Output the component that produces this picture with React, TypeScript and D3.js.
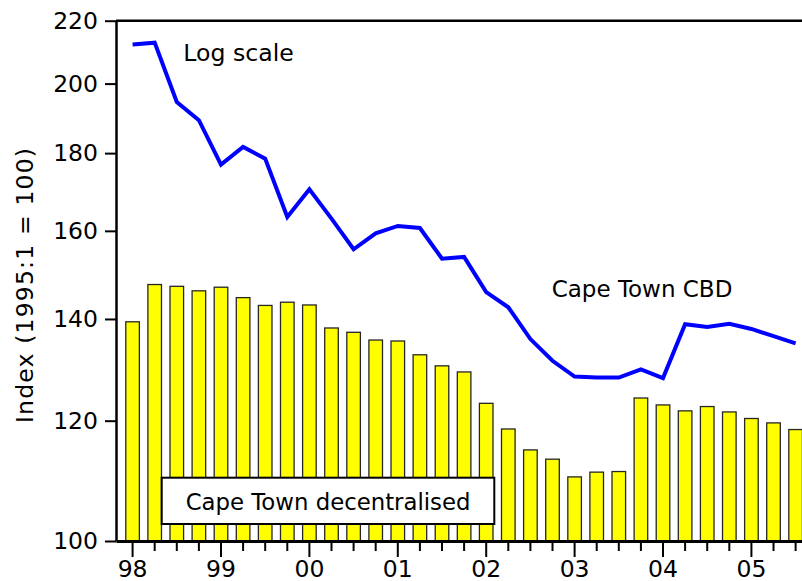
import React, { useRef, useEffect } from "react";
import * as d3 from "d3";

// Quarterly observations, 1998Q1 to 2005Q3
const quarters = [
  "98Q1", "98Q2", "98Q3", "98Q4",
  "99Q1", "99Q2", "99Q3", "99Q4",
  "00Q1", "00Q2", "00Q3", "00Q4",
  "01Q1", "01Q2", "01Q3", "01Q4",
  "02Q1", "02Q2", "02Q3", "02Q4",
  "03Q1", "03Q2", "03Q3", "03Q4",
  "04Q1", "04Q2", "04Q3", "04Q4",
  "05Q1", "05Q2", "05Q3",
];

// Cape Town CBD (line)
const cbd = [
  212.2, 212.8, 194.5, 189.2, 176.9, 181.7, 178.5, 163.4,
  170.4, 163.0, 155.6, 159.4, 161.2, 160.7, 153.4, 153.8,
  145.8, 142.5, 135.8, 131.4, 128.3, 128.1, 128.1, 129.7,
  128.0, 138.9, 138.3, 139.0, 137.9, 136.4, 134.9,
];

// Cape Town decentralised (bars)
const decentralised = [
  139.4, 147.5, 147.1, 146.1, 146.9, 144.6, 142.9, 143.6,
  143.0, 138.1, 137.2, 135.6, 135.4, 132.6, 130.4, 129.2,
  123.2, 118.5, 114.8, 113.2, 110.2, 111.0, 111.1, 124.2,
  122.9, 121.8, 122.6, 121.6, 120.4, 119.6, 118.4,
];

const yTicks = [100, 120, 140, 160, 180, 200, 220];

const FONT = "DejaVu Sans, Verdana, sans-serif";

const App = () => {
  const svgRef = useRef<SVGSVGElement>(null);

  useEffect(() => {
    const svg = d3.select(svgRef.current);
    svg.selectAll("*").remove();

    const left = 116;
    const width = 802;

    const x = d3
      .scaleBand<string>()
      .domain(quarters)
      .range([left, 812.2])
      .paddingInner(0.385)
      .paddingOuter(0.443);
    const y = d3.scaleLog().domain([100, 220]).range([541, 20.7]);
    const cx = (q: string) => (x(q) as number) + x.bandwidth() / 2;

    // Bars
    svg
      .append("g")
      .selectAll("rect")
      .data(decentralised)
      .join("rect")
      .attr("x", (d, i) => x(quarters[i]) as number)
      .attr("y", (d) => y(d))
      .attr("width", x.bandwidth())
      .attr("height", (d) => y(100) - y(d))
      .attr("fill", "#ffff00")
      .attr("stroke", "#262626")
      .attr("stroke-width", 1.3);

    // CBD line
    const line = d3
      .line<number>()
      .x((d, i) => cx(quarters[i]))
      .y((d) => y(d));
    svg
      .append("path")
      .datum(cbd)
      .attr("d", line)
      .attr("fill", "none")
      .attr("stroke", "#0000ff")
      .attr("stroke-width", 4)
      .attr("stroke-linejoin", "miter");

    // Top frame line
    svg
      .append("line")
      .attr("x1", left)
      .attr("x2", width)
      .attr("y1", y(220))
      .attr("y2", y(220))
      .attr("stroke", "#000")
      .attr("stroke-width", 2.5);

    // x axis
    const xAxis = svg
      .append("g")
      .attr("transform", `translate(0,${y(100)})`)
      .call(
        d3
          .axisBottom(x)
          .tickSize(10)
          .tickSizeOuter(0)
          .tickPadding(9)
          .tickFormat((q) => (q.endsWith("Q1") ? q.slice(0, 2) : ""))
      );
    xAxis.select(".domain").attr("stroke", "#000").attr("stroke-width", 3);
    xAxis
      .selectAll(".tick line")
      .attr("stroke", "#000")
      .attr("stroke-width", 2)
      .attr("y2", (q: any) => (q.endsWith("Q1") ? 16 : 10));
    xAxis
      .selectAll(".tick text")
      .attr("font-family", FONT)
      .attr("font-size", 23.5)
      .attr("fill", "#000");

    // y axis
    const yAxis = svg
      .append("g")
      .attr("transform", `translate(${left},0)`)
      .call(
        d3
          .axisLeft(y)
          .tickValues(yTicks)
          .tickFormat(d3.format("d"))
          .tickSize(11)
          .tickSizeOuter(0)
          .tickPadding(7)
      );
    yAxis.select(".domain").attr("stroke", "#000").attr("stroke-width", 2.5);
    yAxis.selectAll(".tick line").attr("stroke", "#000").attr("stroke-width", 2);
    yAxis
      .selectAll(".tick text")
      .attr("font-family", FONT)
      .attr("font-size", 23.5)
      .attr("fill", "#000");

    // y axis title
    svg
      .append("text")
      .attr("transform", "translate(32.5,285.5) rotate(-90)")
      .attr("text-anchor", "middle")
      .attr("font-family", FONT)
      .attr("font-size", 23.5)
      .attr("textLength", 275)
      .attr("lengthAdjust", "spacing")
      .text("Index (1995:1 = 100)");

    // Annotations
    svg
      .append("text")
      .attr("x", 183.3)
      .attr("y", 60.7)
      .attr("font-family", FONT)
      .attr("font-size", 23.6)
      .text("Log scale");

    svg
      .append("text")
      .attr("x", 551.7)
      .attr("y", 296.7)
      .attr("font-family", FONT)
      .attr("font-size", 23)
      .text("Cape Town CBD");

    // Legend box for the bars
    svg
      .append("rect")
      .attr("x", 161.7)
      .attr("y", 477.7)
      .attr("width", 332.6)
      .attr("height", 46.3)
      .attr("fill", "#fff")
      .attr("stroke", "#000")
      .attr("stroke-width", 2);
    svg
      .append("text")
      .attr("x", 185.7)
      .attr("y", 510)
      .attr("font-family", FONT)
      .attr("font-size", 22.8)
      .text("Cape Town decentralised");
  }, []);

  return (
    <div style={{ position: "absolute", left: 0, top: 0 }}>
      <svg ref={svgRef} width={802} height={581} style={{ display: "block" }}></svg>
    </div>
  );
};

export default App;
